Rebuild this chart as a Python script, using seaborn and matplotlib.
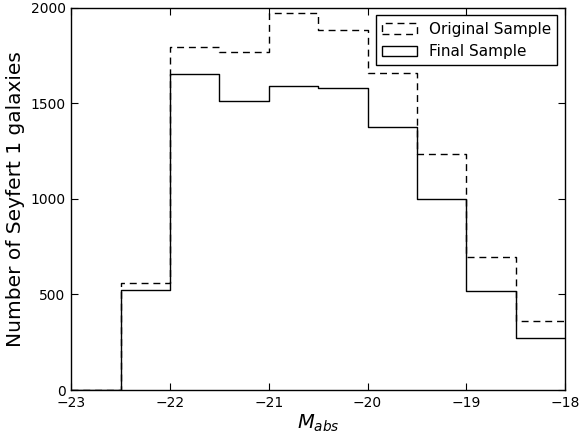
import numpy as np
import pandas as pd
import matplotlib
matplotlib.use("Agg")
import matplotlib.pyplot as plt
import seaborn as sns
from matplotlib.patches import Patch

# Absolute-magnitude bin edges (0.5 mag wide)
bin_edges = [-23.0, -22.5, -22.0, -21.5, -21.0, -20.5, -20.0, -19.5, -19.0, -18.5, -18.0]

# Counts per bin
original_counts = [0, 562, 1794, 1768, 1972, 1885, 1658, 1236, 698, 360]
final_counts = [0, 525, 1655, 1510, 1590, 1583, 1375, 1000, 518, 270]

centers = [(a + b) / 2 for a, b in zip(bin_edges[:-1], bin_edges[1:])]
df = pd.DataFrame({
    "M_abs": centers * 2,
    "count": original_counts + final_counts,
    "sample": ["Original Sample"] * len(centers) + ["Final Sample"] * len(centers),
})

sns.set_style("ticks")
plt.rcParams["font.family"] = ["DejaVu Sans"]
plt.rcParams["text.color"] = "black"
plt.rcParams["axes.labelcolor"] = "black"

fig = plt.figure(figsize=(5.79, 4.36), dpi=100)
ax = fig.add_axes([0.123, 0.1055, 0.853, 0.8765])

orig = df[df["sample"] == "Original Sample"]
fin = df[df["sample"] == "Final Sample"]

sns.histplot(data=orig, x="M_abs", weights="count", bins=bin_edges,
             element="step", fill=False, color="black", linewidth=1.0,
             linestyle=(0, (5, 3.5)), ax=ax)
sns.histplot(data=fin, x="M_abs", weights="count", bins=bin_edges,
             element="step", fill=False, color="black", linewidth=1.0, ax=ax)

ax.set_xlim(-23, -18)
ax.set_ylim(0, 2000)
ax.set_xticks([-23, -22, -21, -20, -19, -18])
ax.set_yticks([0, 500, 1000, 1500, 2000])
ax.tick_params(direction="in", top=True, right=True, length=5, width=0.8,
               labelsize=10, colors="black", pad=4)
for s in ax.spines.values():
    s.set_visible(True)
    s.set_color("black")
    s.set_linewidth(1.0)

ax.set_xlabel(r"$M_{abs}$", fontsize=14, labelpad=2)
ax.set_ylabel("Number of Seyfert 1 galaxies", fontsize=14.5, labelpad=4)

handles = [
    Patch(facecolor="none", edgecolor="black", linestyle=(0, (5, 3.5)), linewidth=1.0),
    Patch(facecolor="none", edgecolor="black", linewidth=1.0),
]
leg = ax.legend(handles, ["Original Sample", "Final Sample"], loc="upper right",
                fontsize=11, frameon=True, fancybox=False, framealpha=1,
                edgecolor="black", borderaxespad=0.5, handlelength=2.3,
                borderpad=0.4)
leg.get_frame().set_linewidth(1.0)

fig.savefig("out.png", dpi=100)
